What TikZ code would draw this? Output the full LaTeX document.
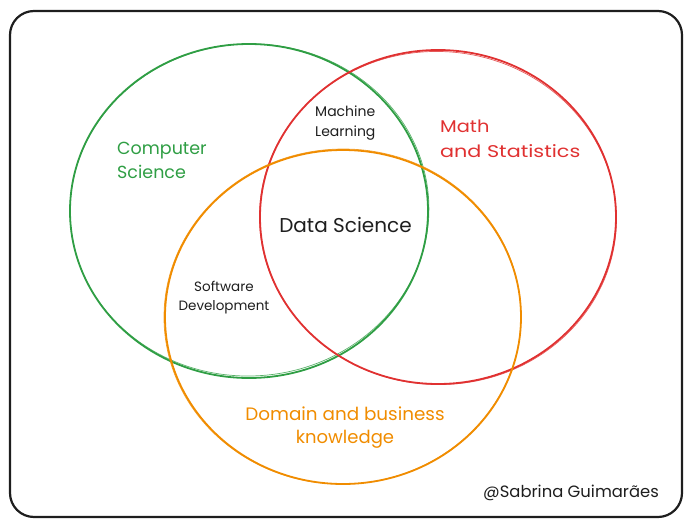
\documentclass[tikz,border=0pt]{standalone}
\usepackage{fontspec}
\setmainfont{Poppins}
\usetikzlibrary{shapes.geometric}
\definecolor{inkblack}{HTML}{1E1E1E}
\definecolor{csgreen}{HTML}{2F9E44}
\definecolor{mathred}{HTML}{E03131}
\definecolor{domorange}{HTML}{F08C00}
% widen a line of lettering horizontally
\newcommand{\widen}[2]{\scalebox{#1}[1]{#2}}
\tikzset{
  field/.style={draw, line width=1.8pt},
  ghost/.style={draw, line width=0.7pt, opacity=0.8},
  txt/.style={inner sep=0pt},
}
\begin{document}
\begin{tikzpicture}[x=1pt, y=-1pt]
\useasboundingbox (0,0) rectangle (691,525);
% outer frame
\draw[inkblack, line width=2.2pt, rounded corners=24pt] (10,11) rectangle (682,517);
% the three fields, each with a faint second stroke
\draw[field, csgreen] (249,211) ellipse [x radius=179, y radius=167];
\draw[ghost, csgreen, rotate around={3:(249,211)}] (249.5,210) ellipse [x radius=179.5, y radius=166];
\draw[field, mathred] (438,217) ellipse [x radius=178, y radius=167];
\draw[ghost, mathred, rotate around={-3:(438,217)}] (438,218) ellipse [x radius=178.5, y radius=166.5];
\draw[field, domorange] (343,317) ellipse [x radius=178, y radius=167];
\draw[ghost, domorange, rotate around={2:(343,317)}] (342.5,316.5) ellipse [x radius=178.5, y radius=167.5];
% field names
\node[txt, text=csgreen, anchor=north west, align=left,
      font=\fontsize{17.5}{24}\selectfont] (cs) at (117,142) {Computer\\Science};
\node[txt, text=mathred, anchor=north west, align=left,
      font=\fontsize{17}{25}\selectfont] (ms) at (440,120) {\widen{1.14}{Math}\\\widen{1.22}{and Statistics}};
\node[txt, text=domorange, anchor=north, align=center,
      font=\fontsize{18}{23}\selectfont] (dk) at (345,406.5) {\widen{1.02}{Domain and business}\\knowledge};
% overlaps
\node[txt, text=inkblack, anchor=north west, align=left,
      font=\fontsize{14}{20}\selectfont] (ml) at (315,105.5) {Machine\\Learning};
\node[txt, text=inkblack, anchor=north, align=center,
      font=\fontsize{13.5}{19}\selectfont] (sd) at (224,281) {Software\\Development};
\node[txt, text=inkblack, anchor=base, font=\fontsize{20}{24}\selectfont] (ds) at (345.5,232) {Data Science};
% signature
\node[txt, text=inkblack, anchor=base west, font=\fontsize{16.4}{20}\selectfont] (sig) at (483,497) {@Sabrina Guimarães};
\end{tikzpicture}
\end{document}
